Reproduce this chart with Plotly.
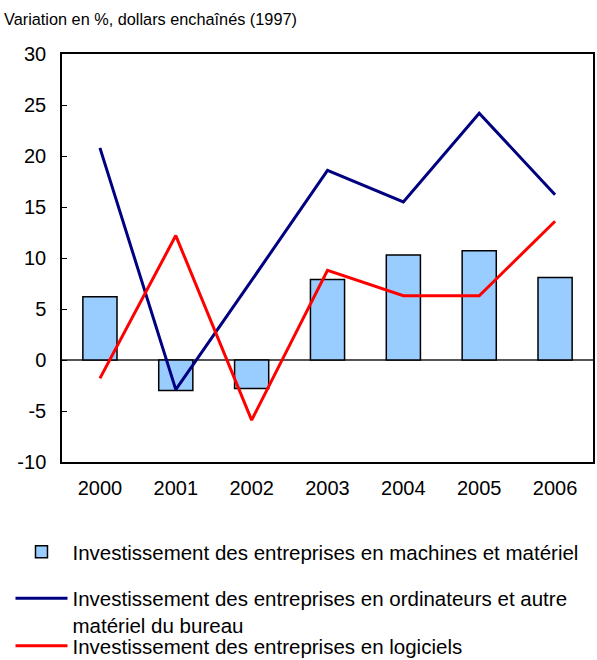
import plotly.graph_objects as go

years = ["2000", "2001", "2002", "2003", "2004", "2005", "2006"]
machines = [6.2, -3.0, -2.8, 7.9, 10.3, 10.7, 8.1]
ordinateurs = [20.8, -2.9, 7.8, 18.6, 15.5, 24.2, 16.2]
logiciels = [-1.8, 12.2, -5.9, 8.8, 6.3, 6.3, 13.6]
y_ticks = [-10, -5, 0, 5, 10, 15, 20, 25, 30]
y_tick_text = ["-10", "-5", "0", "5", "10", "15", "20", "25", "30"]

name_bar = "Investissement des entreprises en machines et matériel"
name_blue = "Investissement des entreprises en ordinateurs et autre<br>matériel du bureau"
name_red = "Investissement des entreprises en logiciels"

font = "Liberation Sans, Arial, sans-serif"
leg_x = -0.097

fig = go.Figure()
fig.add_trace(go.Bar(
    x=years, y=machines, name=name_bar,
    marker=dict(color="#99ccff", line=dict(color="black", width=1.5)),
    width=0.45, legend="legend",
))
fig.add_trace(go.Scatter(
    x=years, y=ordinateurs, name=name_blue, mode="lines",
    line=dict(color="#000080", width=3), legend="legend2",
))
fig.add_trace(go.Scatter(
    x=years, y=logiciels, name=name_red, mode="lines",
    line=dict(color="#ff0000", width=3), legend="legend3",
))

leg_common = dict(
    x=leg_x, xanchor="left", yref="container", yanchor="middle",
    valign="top", itemwidth=52, font=dict(size=20.5),
    bgcolor="rgba(0,0,0,0)",
)

fig.update_layout(
    width=597, height=660,
    margin=dict(l=62, r=4, t=54, b=198, autoexpand=False),
    paper_bgcolor="white", plot_bgcolor="white",
    font=dict(family=font, size=20, color="black"),
    showlegend=True,
    legend=dict(leg_common, y=1 - 552 / 660),
    legend2=dict(leg_common, y=1 - 612 / 660),
    legend3=dict(leg_common, y=1 - 646 / 660),
    annotations=[dict(
        text="Variation en %, dollars enchaînés (1997)",
        xref="paper", yref="paper", x=-0.113, y=1.0, yshift=24,
        xanchor="left", yanchor="bottom", showarrow=False,
        font=dict(size=16.3),
    )],
    xaxis=dict(
        showline=True, linecolor="black", linewidth=1.5, mirror=True,
        ticks="", showgrid=False, ticklabelstandoff=7, automargin=False,
    ),
    yaxis=dict(
        range=[-10, 30], tickvals=y_ticks, ticktext=y_tick_text,
        showline=True, linecolor="black", linewidth=1.5, mirror=True,
        ticks="inside", ticklen=5, tickcolor="black", showgrid=False,
        zeroline=True, zerolinecolor="#555555", zerolinewidth=1.5,
        ticklabelstandoff=10, automargin=False,
    ),
)

# page body has a default 8px margin; drop it so the figure fills the window
fig.write_html(
    "out.html",
    config={"displayModeBar": False},
    post_script="document.body.style.margin='0';",
)
